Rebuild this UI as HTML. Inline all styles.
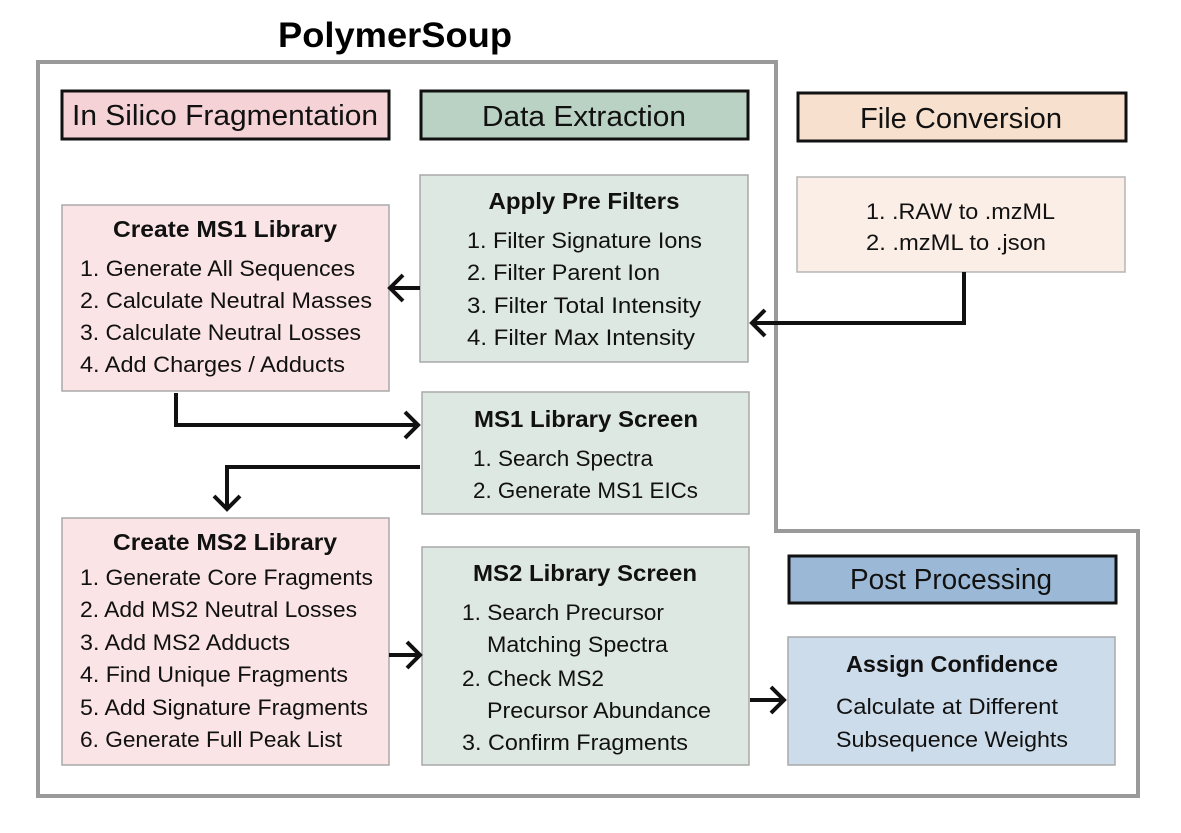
<!DOCTYPE html>
<html><head><meta charset="utf-8"><style>
html,body{margin:0;padding:0;background:#fff;}
svg{display:block;font-family:"Liberation Sans",sans-serif;}
.h{font-size:29px;fill:#111;}
.b{font-size:23px;font-weight:bold;fill:#111;}
.t{font-size:22px;fill:#111;}
</style></head><body>
<svg width="1181" height="833" viewBox="0 0 1181 833" xmlns="http://www.w3.org/2000/svg">
<text x="395" y="47" text-anchor="middle" font-size="35" font-weight="bold" textLength="234" lengthAdjust="spacingAndGlyphs">PolymerSoup</text>
<path d="M38,62 H776 V531 H1138 V796 H38 Z" fill="none" stroke="#9a9a9a" stroke-width="4"/>

<rect x="62" y="91" width="327" height="48" fill="#f4d2d5" stroke="#111" stroke-width="3"/>
<text class="h" x="225" y="125" text-anchor="middle" textLength="306" lengthAdjust="spacingAndGlyphs">In Silico Fragmentation</text>
<rect x="421" y="91" width="327" height="48" fill="#b9d2c3" stroke="#111" stroke-width="3"/>
<text class="h" x="584" y="126" text-anchor="middle" textLength="204" lengthAdjust="spacingAndGlyphs">Data Extraction</text>
<rect x="798" y="93" width="328" height="48" fill="#f8e0cf" stroke="#111" stroke-width="3"/>
<text class="h" x="961" y="128" text-anchor="middle" textLength="202" lengthAdjust="spacingAndGlyphs">File Conversion</text>
<rect x="789" y="556" width="327" height="47" fill="#9bb9d6" stroke="#111" stroke-width="3"/>
<text class="h" x="951" y="589" text-anchor="middle" textLength="202" lengthAdjust="spacingAndGlyphs">Post Processing</text>

<rect x="420" y="175" width="328" height="187" fill="#dee8e2" stroke="#a9a9a9" stroke-width="1.5"/>
<rect x="62" y="205" width="327" height="186" fill="#fae4e5" stroke="#a9a9a9" stroke-width="1.5"/>
<rect x="797" y="177" width="328" height="95" fill="#fbeee6" stroke="#b5b5b5" stroke-width="1.5"/>
<rect x="422" y="392" width="327" height="122" fill="#dee8e2" stroke="#a9a9a9" stroke-width="1.5"/>
<rect x="62" y="518" width="327" height="247" fill="#fae4e5" stroke="#a9a9a9" stroke-width="1.5"/>
<rect x="422" y="547" width="327" height="218" fill="#dee8e2" stroke="#a9a9a9" stroke-width="1.5"/>
<rect x="788" y="637" width="327" height="128" fill="#cddcea" stroke="#a9a9a9" stroke-width="1.5"/>

<text class="b" x="225" y="237" text-anchor="middle" textLength="224" lengthAdjust="spacingAndGlyphs">Create MS1 Library</text>
<text class="t" x="80" y="276" textLength="275" lengthAdjust="spacingAndGlyphs">1. Generate All Sequences</text>
<text class="t" x="80" y="308" textLength="292" lengthAdjust="spacingAndGlyphs">2. Calculate Neutral Masses</text>
<text class="t" x="80" y="340" textLength="281" lengthAdjust="spacingAndGlyphs">3. Calculate Neutral Losses</text>
<text class="t" x="80" y="372" textLength="265" lengthAdjust="spacingAndGlyphs">4. Add Charges / Adducts</text>

<text class="b" x="584" y="209" text-anchor="middle" textLength="191" lengthAdjust="spacingAndGlyphs">Apply Pre Filters</text>
<text class="t" x="467" y="248" textLength="235" lengthAdjust="spacingAndGlyphs">1. Filter Signature Ions</text>
<text class="t" x="467" y="280" textLength="193" lengthAdjust="spacingAndGlyphs">2. Filter Parent Ion</text>
<text class="t" x="467" y="313" textLength="234" lengthAdjust="spacingAndGlyphs">3. Filter Total Intensity</text>
<text class="t" x="467" y="345" textLength="228" lengthAdjust="spacingAndGlyphs">4. Filter Max Intensity</text>

<text class="t" x="866" y="219" textLength="189" lengthAdjust="spacingAndGlyphs">1. .RAW to .mzML</text>
<text class="t" x="866" y="250" textLength="180" lengthAdjust="spacingAndGlyphs">2. .mzML to .json</text>

<text class="b" x="586" y="427" text-anchor="middle" textLength="224" lengthAdjust="spacingAndGlyphs">MS1 Library Screen</text>
<text class="t" x="473" y="466" textLength="180" lengthAdjust="spacingAndGlyphs">1. Search Spectra</text>
<text class="t" x="473" y="498" textLength="225" lengthAdjust="spacingAndGlyphs">2. Generate MS1 EICs</text>

<text class="b" x="225" y="550" text-anchor="middle" textLength="224" lengthAdjust="spacingAndGlyphs">Create MS2 Library</text>
<text class="t" x="80" y="585" textLength="293" lengthAdjust="spacingAndGlyphs">1. Generate Core Fragments</text>
<text class="t" x="80" y="617" textLength="277" lengthAdjust="spacingAndGlyphs">2. Add MS2 Neutral Losses</text>
<text class="t" x="80" y="650" textLength="210" lengthAdjust="spacingAndGlyphs">3. Add MS2 Adducts</text>
<text class="t" x="80" y="682" textLength="268" lengthAdjust="spacingAndGlyphs">4. Find Unique Fragments</text>
<text class="t" x="80" y="715" textLength="288" lengthAdjust="spacingAndGlyphs">5. Add Signature Fragments</text>
<text class="t" x="80" y="747" textLength="262" lengthAdjust="spacingAndGlyphs">6. Generate Full Peak List</text>

<text class="b" x="585" y="581" text-anchor="middle" textLength="224" lengthAdjust="spacingAndGlyphs">MS2 Library Screen</text>
<text class="t" x="462" y="620" textLength="202" lengthAdjust="spacingAndGlyphs">1. Search Precursor</text>
<text class="t" x="487" y="652" textLength="181" lengthAdjust="spacingAndGlyphs">Matching Spectra</text>
<text class="t" x="462" y="686" textLength="142" lengthAdjust="spacingAndGlyphs">2. Check MS2</text>
<text class="t" x="487" y="718" textLength="224" lengthAdjust="spacingAndGlyphs">Precursor Abundance</text>
<text class="t" x="462" y="750" textLength="226" lengthAdjust="spacingAndGlyphs">3. Confirm Fragments</text>

<text class="b" x="952" y="672" text-anchor="middle" textLength="212" lengthAdjust="spacingAndGlyphs">Assign Confidence</text>
<text class="t" x="836" y="714" textLength="222" lengthAdjust="spacingAndGlyphs">Calculate at Different</text>
<text class="t" x="836" y="747" textLength="232" lengthAdjust="spacingAndGlyphs">Subsequence Weights</text>

<g fill="none" stroke="#111" stroke-width="4" stroke-linejoin="miter">
<path d="M420,288 H390"/><path d="M403,275 L390,288 L403,301"/>
<path d="M964,272 V323 H752"/><path d="M765,310 L752,323 L765,336"/>
<path d="M176,393 V425 H418"/><path d="M405,412 L418,425 L405,438"/>
<path d="M420,467 H227 V509"/><path d="M214,496 L227,509 L240,496"/>
<path d="M389,655 H420"/><path d="M407,642 L420,655 L407,668"/>
<path d="M750,700 H784"/><path d="M771,687 L784,700 L771,713"/>
</g>
</svg>
</body></html>
